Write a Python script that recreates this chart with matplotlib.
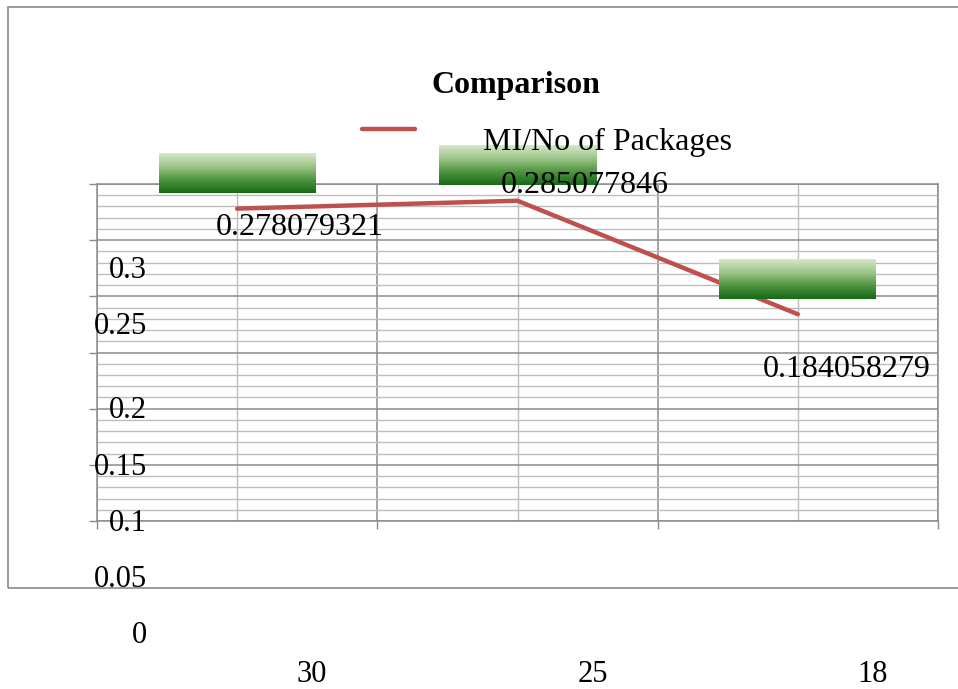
import numpy as np
import matplotlib
matplotlib.use("Agg")
import matplotlib.pyplot as plt
from matplotlib.colors import LinearSegmentedColormap
from matplotlib.patches import Rectangle
from matplotlib.lines import Line2D

# ---- data ----
categories = ["30", "25", "18"]
ratio = [0.278079321, 0.285077846, 0.184058279]
series_name = "MI/No of Packages"
title = "Comparison"
y_tick_labels = ["0", "0.05", "0.1", "0.15", "0.2", "0.25", "0.3"]

# ---- layout (pixels) ----
W, H = 958, 689
plot_left, plot_right, plot_top, plot_bottom = 97, 938, 184, 521
ytick_baselines = [643, 587, 531, 475, 418, 334, 278]
ytick_right = 147
label_offsets = [(63, -26), (67, 8), (49, -63)]
cat_label_offset = (75, -(682 - plot_bottom))

plt.rcParams["font.family"] = ["Liberation Serif", "DejaVu Serif"]
FS = 23
FS_TICK = 22

RED = "#c0504d"
MAJOR = "#8c8c8c"
MINOR = "#bdbdbd"


def fx(x):
    return x / W


def fy(y):
    return 1 - y / H


fig = plt.figure(figsize=(W / 100, H / 100), dpi=100)

# outer chart frame
fig.patches.append(Rectangle((fx(8), fy(588)), 1.2, (588 - 7) / H,
                             transform=fig.transFigure, fill=False,
                             ec="#8a8a8a", lw=1.2))

ax = fig.add_axes([fx(plot_left), fy(plot_bottom),
                   (plot_right - plot_left) / W,
                   (plot_bottom - plot_top) / H])

x = np.arange(len(categories)) + 0.5
ax.plot(x, ratio, color=RED, lw=3.2, solid_capstyle="round", zorder=3)

# gradient boxes above each point
ppu = ax.bbox.height / 0.3
cat_px = ax.bbox.width / len(categories)
cmap = LinearSegmentedColormap.from_list(
    "grn", ["#156a17", "#4f9440", "#9cc587", "#d8e8cc"])
grad = np.linspace(0, 1, 256).reshape(-1, 1)
for xi, v in zip(x, ratio):
    ax.imshow(grad, cmap=cmap, origin="lower", aspect="auto",
              extent=(xi - 78.5 / cat_px, xi + 78.5 / cat_px,
                      v + 15.5 / ppu, v + 55.5 / ppu),
              zorder=4, clip_on=False, interpolation="bilinear")

for xi, v, off in zip(x, ratio, label_offsets):
    ax.annotate(f"{v:.9f}", xy=(xi, v), xytext=off,
                textcoords="offset pixels", ha="center", va="baseline",
                fontsize=FS, zorder=5, annotation_clip=False)

for xi, c in zip(x, categories):
    ax.annotate(c, xy=(xi, 0), xycoords=("data", "axes fraction"),
                xytext=cat_label_offset, textcoords="offset pixels",
                ha="center", va="baseline", fontsize=FS_TICK,
                annotation_clip=False)

ax.set_xlim(0, len(categories))
ax.set_ylim(0, 0.3)

ax.set_yticks(np.arange(0, 0.3001, 0.05))
ax.set_yticks(np.arange(0, 0.3001, 0.01), minor=True)
ax.set_xticks(np.arange(0, len(categories) + 1))
ax.set_xticks(x, minor=True)
ax.tick_params(which="major", direction="out", length=6, width=1,
               color=MAJOR, labelleft=False, labelbottom=False)
ax.tick_params(which="minor", length=0, labelleft=False, labelbottom=False)
ax.grid(which="major", color=MAJOR, lw=1.1, zorder=1)
ax.grid(which="minor", color=MINOR, lw=1.0, zorder=1)
ax.set_axisbelow(True)
for s in ax.spines.values():
    s.set_color(MAJOR)
    s.set_linewidth(1.1)

for lab, yb in zip(y_tick_labels, ytick_baselines):
    fig.text(fx(ytick_right), fy(yb), lab, ha="right", va="baseline",
             fontsize=FS_TICK)

# legend
fig.add_artist(Line2D([fx(362), fx(415)], [fy(129), fy(129)],
                      transform=fig.transFigure, color=RED, lw=3.2,
                      solid_capstyle="round"))
fig.text(fx(483), fy(150), series_name, fontsize=FS, va="baseline")

fig.text(fx(516), fy(93), title, fontsize=FS, fontweight="bold",
         ha="center", va="baseline")

fig.savefig("out.png", dpi=100)
